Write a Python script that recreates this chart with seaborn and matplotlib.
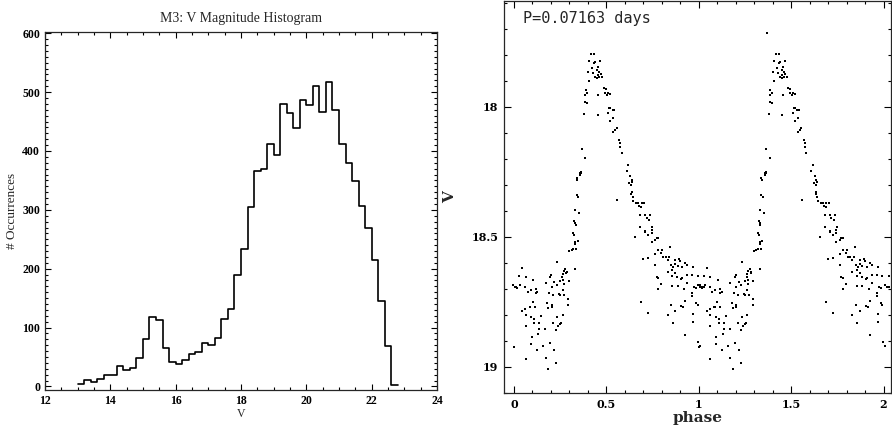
import numpy as np
import pandas as pd
import seaborn as sns
from matplotlib import pyplot as plt
from matplotlib.ticker import MultipleLocator, FixedLocator, FuncFormatter

# Histogram counts (0.2 mag bins starting at V=13.0)
bin_start = 13.0
bin_width = 0.2
counts = [5, 11, 8, 12, 20, 20, 34, 28, 31, 48,
          80, 118, 113, 65, 42, 38, 45, 55, 59, 73,
          70, 83, 115, 132, 189, 234, 304, 366, 369, 411,
          394, 480, 465, 439, 487, 478, 511, 466, 517, 470,
          411, 380, 349, 307, 270, 214, 146, 68, 2]

# Light curve, one cycle (phase, V); second cycle is phase + 1
phase = [0.363, 0.359, 0.341, 0.339, 0.348, 0.330, 0.352, 0.325, 0.330, 0.334,
         0.321, 0.325, 0.345, 0.330, 0.330, 0.300, 0.318, 0.336, 0.312, 0.233,
         0.330, 0.276, 0.269, 0.285, 0.281, 0.263, 0.260, 0.197, 0.200, 0.251,
         0.267, 0.218, 0.296, 0.269, 0.231, 0.204, 0.171, 0.105, 0.063, 0.027,
         0.042, 0.033, -0.005, 0.005, 0.018, 0.011, 0.060, 0.090, 0.074, 0.117,
         0.117, 0.125, 0.189, 0.213, 0.244, 0.263, 0.273, 0.249, 0.291, 0.291,
         0.204, 0.204, 0.186, 0.179, 0.101, 0.114, 0.088, 0.085, 0.060, 0.042,
         0.063, 0.146, 0.092, 0.108, 0.263, 0.233, 0.213, 0.237, 0.249, 0.255,
         0.226, 0.135, 0.110, 0.063, 0.168, 0.135, 0.132, 0.096, 0.092, 0.159,
         0.195, 0.126, 0.217, 0.002, 0.063, 0.171, 0.226, 0.186,
         0.417, 0.433, 0.408, 0.439, 0.435, 0.466, 0.457, 0.421, 0.448, 0.403,
         0.430, 0.460, 0.453, 0.469, 0.478, 0.439, 0.449, 0.462, 0.408, 0.485,
         0.496, 0.388, 0.397, 0.385, 0.493, 0.511, 0.522, 0.457, 0.504, 0.385,
         0.394, 0.514, 0.540, 0.511, 0.379, 0.453, 0.522, 0.538, 0.366, 0.385,
         0.363, 0.359, 0.339,
         0.520, 0.534, 0.538, 0.547, 0.556, 0.569, 0.574, 0.583, 0.574, 0.619,
         0.610, 0.628, 0.637, 0.623, 0.633, 0.641, 0.637, 0.633, 0.642, 0.559,
         0.646, 0.659, 0.673, 0.691, 0.679, 0.706, 0.688, 0.682, 0.709, 0.736,
         0.718, 0.731, 0.682, 0.749, 0.709, 0.709, 0.745, 0.745, 0.724, 0.655,
         0.772, 0.778, 0.763, 0.745, 0.781, 0.803, 0.845, 0.796, 0.763, 0.809,
         0.727, 0.700, 0.821, 0.839, 0.832, 0.872, 0.893, 0.899, 0.850, 0.872,
         0.863, 0.886, 0.926, 0.935, 0.911, 0.763, 0.971, 0.832, 0.854, 0.857,
         0.881, 0.872, 0.904, 0.911, 0.935, 0.966, 0.994, 1.031, 0.772, 0.778,
         0.796, 0.854, 0.886, 0.935, 0.919, 0.781, 0.976, 0.984, 1.007, 1.020,
         1.027, 0.962, 0.966, 0.688, 0.926, 0.850, 0.904, 0.917, 0.984, 0.994,
         0.727, 0.832, 0.872, 0.971, 0.971, 0.859, 0.926, 0.998, 1.007]
vmag = [18.250, 18.256, 18.282, 18.340, 18.346, 18.397, 18.408, 18.438, 18.449, 18.455,
        18.487, 18.494, 18.515, 18.519, 18.528, 18.555, 18.549, 18.547, 18.551, 18.596,
        18.623, 18.624, 18.631, 18.635, 18.641, 18.644, 18.654, 18.654, 18.649, 18.669,
        18.667, 18.674, 18.670, 18.682, 18.686, 18.695, 18.679, 18.667, 18.656, 18.651,
        18.622, 18.686, 18.686, 18.695, 18.699, 18.692, 18.695, 18.705, 18.711, 18.702,
        18.715, 18.713, 18.718, 18.726, 18.720, 18.705, 18.726, 18.724, 18.741, 18.763,
        18.769, 18.763, 18.776, 18.754, 18.750, 18.772, 18.769, 18.769, 18.779, 18.785,
        18.800, 18.804, 18.810, 18.817, 18.801, 18.808, 18.833, 18.844, 18.836, 18.831,
        18.859, 18.833, 18.833, 18.844, 18.855, 18.856, 18.874, 18.885, 18.913, 18.919,
        18.910, 18.936, 18.936, 18.923, 18.972, 18.968, 18.985, 19.008,
        17.797, 17.797, 17.823, 17.827, 17.833, 17.823, 17.846, 17.852, 17.859, 17.868,
        17.869, 17.865, 17.878, 17.874, 17.885, 17.885, 17.891, 17.887, 17.900, 17.929,
        17.933, 17.936, 17.946, 17.955, 17.949, 17.946, 17.951, 17.955, 17.955, 17.981,
        17.987, 18.006, 18.013, 18.023, 18.028, 18.032, 18.054, 18.096, 18.164, 18.199,
        18.254, 18.263, 18.276,
        18.006, 18.013, 18.045, 18.090, 18.083, 18.128, 18.141, 18.179, 18.154, 18.224,
        18.246, 18.267, 18.282, 18.295, 18.301, 18.288, 18.327, 18.336, 18.346, 18.359,
        18.363, 18.372, 18.372, 18.372, 18.382, 18.372, 18.385, 18.417, 18.417, 18.417,
        18.429, 18.436, 18.461, 18.461, 18.477, 18.483, 18.474, 18.485, 18.494, 18.502,
        18.506, 18.506, 18.513, 18.519, 18.551, 18.551, 18.541, 18.564, 18.567, 18.579,
        18.583, 18.587, 18.579, 18.577, 18.590, 18.590, 18.587, 18.592, 18.609, 18.605,
        18.615, 18.613, 18.600, 18.609, 18.615, 18.609, 18.615, 18.635, 18.628, 18.651,
        18.656, 18.641, 18.664, 18.660, 18.647, 18.647, 18.651, 18.651, 18.656, 18.660,
        18.682, 18.690, 18.690, 18.679, 18.702, 18.702, 18.695, 18.699, 18.686, 18.692,
        18.695, 18.718, 18.728, 18.750, 18.747, 18.763, 18.767, 18.769, 18.754, 18.763,
        18.792, 18.801, 18.785, 18.797, 18.827, 18.833, 18.878, 18.904, 18.920]
# stray point seen only in the second cycle
extra_phase = [1.368]
extra_vmag = [17.718]

period_text = 'P=0.07163 days'

sns.set_style('ticks')
plt.rcParams['xtick.direction'] = 'in'
plt.rcParams['ytick.direction'] = 'in'

fig = plt.figure(figsize=(8.92, 4.33), dpi=100)

# ---- left: histogram
ax1 = fig.add_axes([0.0504, 0.0993, 0.4395, 0.8267])
edges = [round(bin_start + bin_width * i, 2) for i in range(len(counts) + 1)]
centers = [e + bin_width / 2 for e in edges[:-1]]
hist_df = pd.DataFrame({'V': centers, 'n': counts})
sns.histplot(data=hist_df, x='V', weights='n', bins=edges, element='step',
             fill=False, color='black', linewidth=1.2, ax=ax1)
ax1.set_xlim(12, 24)
ax1.set_ylim(-6, 602)
ax1.xaxis.set_major_locator(MultipleLocator(2))
ax1.xaxis.set_minor_locator(MultipleLocator(0.5))
ax1.yaxis.set_major_locator(MultipleLocator(100))
ax1.yaxis.set_minor_locator(MultipleLocator(10))
ax1.tick_params(which='both', top=True, right=True, width=0.8, colors='black')
ax1.tick_params(which='major', length=4, labelsize=8.5)
ax1.tick_params(which='minor', length=2)
for lab in ax1.get_xticklabels() + ax1.get_yticklabels():
    lab.set_family('Liberation Serif')
    lab.set_weight('bold')
ax1.set_title('M3: V Magnitude Histogram', family='Liberation Serif', fontsize=10, pad=7)
ax1.set_xlabel('V', family='Liberation Serif', fontsize=8.5, labelpad=1)
ax1.set_ylabel('# Occurrences', family='Liberation Serif', fontsize=9.5, labelpad=3)
for sp in ax1.spines.values():
    sp.set_linewidth(0.9)

# ---- right: folded light curve
ax2 = fig.add_axes([0.565, 0.0924, 0.434, 0.9055])
lc = pd.DataFrame({'phase': phase + [p + 1 for p in phase] + extra_phase,
                   'V': vmag + vmag + extra_vmag})
sns.scatterplot(data=lc, x='phase', y='V', s=2, marker='s', color='black',
                linewidth=0, ax=ax2)
ax2.set_xlim(-0.054, 2.041)
ax2.set_ylim(19.101, 17.593)
ax2.xaxis.set_major_locator(MultipleLocator(0.5))
ax2.xaxis.set_minor_locator(MultipleLocator(0.1))
ax2.yaxis.set_major_locator(FixedLocator([18, 18.5, 19]))
ax2.yaxis.set_minor_locator(MultipleLocator(0.1))
fmt = FuncFormatter(lambda v, pos: f'{v:g}')
ax2.xaxis.set_major_formatter(fmt)
ax2.yaxis.set_major_formatter(fmt)
ax2.tick_params(which='both', top=True, right=True, width=0.8, colors='black')
ax2.tick_params(which='major', length=5, labelsize=8, pad=4)
ax2.tick_params(which='minor', length=2.5)
for lab in ax2.get_xticklabels() + ax2.get_yticklabels():
    lab.set_family('DejaVu Serif')
    lab.set_weight('bold')
ax2.set_xlabel('phase', family='DejaVu Serif', fontweight='bold', fontsize=11, labelpad=1)
ax2.set_ylabel('V', family='DejaVu Serif', fontweight='bold', fontsize=11, labelpad=10)
ax2.text(0.048, 0.975, period_text, transform=ax2.transAxes, ha='left', va='top',
         family='DejaVu Sans Mono', fontsize=11)
for sp in ax2.spines.values():
    sp.set_linewidth(0.9)

fig.savefig('out.png', dpi=100)
